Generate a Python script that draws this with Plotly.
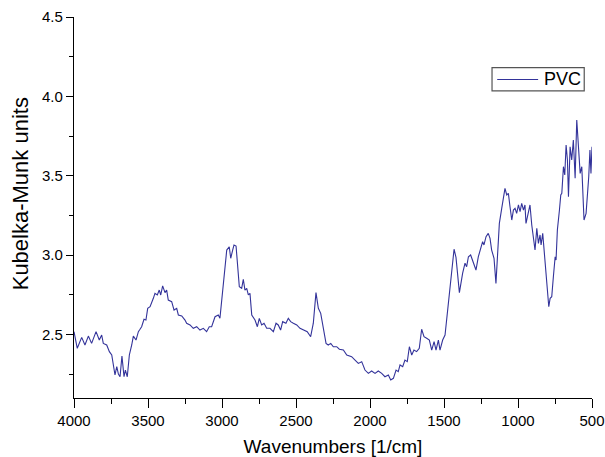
import plotly.graph_objects as go

wavenumber = [4000, 3978, 3948, 3926, 3903, 3881, 3851, 3829, 3813, 3802, 3779, 3761, 3745, 3734, 3723, 3711,
              3700, 3689, 3676, 3662, 3653, 3640, 3626, 3610, 3599, 3581, 3565, 3554, 3543, 3527, 3514, 3502,
              3486, 3464, 3453, 3437, 3424, 3414, 3401, 3385, 3374, 3363, 3340, 3324, 3306, 3295, 3272, 3250,
              3239, 3216, 3194, 3171, 3149, 3126, 3104, 3086, 3070, 3047, 3025, 3014, 3002, 2986, 2968, 2951,
              2941, 2928, 2919, 2905, 2896, 2883, 2867, 2856, 2845, 2833, 2822, 2811, 2799, 2777, 2761, 2748,
              2732, 2716, 2698, 2676, 2653, 2635, 2620, 2604, 2590, 2568, 2552, 2536, 2518, 2495, 2473, 2446,
              2424, 2401, 2383, 2365, 2349, 2333, 2315, 2297, 2282, 2265, 2248, 2225, 2207, 2180, 2157, 2124,
              2101, 2079, 2056, 2034, 2011, 1989, 1966, 1944, 1921, 1899, 1876, 1860, 1842, 1824, 1809, 1797,
              1779, 1764, 1748, 1734, 1718, 1703, 1685, 1667, 1651, 1635, 1617, 1599, 1583, 1567, 1554, 1538,
              1527, 1509, 1493, 1482, 1464, 1448, 1432, 1419, 1403, 1396, 1374, 1358, 1347, 1335, 1320, 1302,
              1284, 1268, 1252, 1239, 1230, 1216, 1201, 1189, 1178, 1162, 1149, 1140, 1126, 1110, 1099, 1088,
              1076, 1065, 1054, 1042, 1031, 1020, 1009, 997, 986, 975, 963, 953, 946, 930, 919, 907,
              896, 885, 873, 862, 851, 844, 833, 824, 811, 802, 792, 783, 772, 761, 749, 743,
              734, 720, 711, 704, 693, 684, 675, 666, 659, 648, 637, 626, 614, 603, 592, 580,
              569, 554, 540, 531, 522, 514, 507, 500]

km_units = [2.518, 2.413, 2.482, 2.434, 2.490, 2.444, 2.518, 2.465, 2.497, 2.444, 2.434, 2.392, 2.371, 2.297, 2.245, 2.297,
            2.251, 2.234, 2.365, 2.234, 2.276, 2.234, 2.371, 2.434, 2.490, 2.465, 2.518, 2.533, 2.549, 2.596, 2.591, 2.665,
            2.675, 2.728, 2.759, 2.749, 2.780, 2.749, 2.806, 2.764, 2.780, 2.717, 2.707, 2.654, 2.665, 2.623, 2.617, 2.591,
            2.571, 2.560, 2.539, 2.549, 2.528, 2.539, 2.518, 2.549, 2.549, 2.612, 2.623, 2.602, 2.717, 2.906, 3.032, 3.053,
            2.980, 3.032, 3.064, 3.057, 2.969, 2.801, 2.791, 2.848, 2.780, 2.791, 2.749, 2.759, 2.623, 2.591, 2.549, 2.602,
            2.560, 2.571, 2.539, 2.539, 2.518, 2.571, 2.560, 2.528, 2.581, 2.571, 2.602, 2.581, 2.571, 2.560, 2.539, 2.528,
            2.518, 2.486, 2.571, 2.764, 2.665, 2.633, 2.549, 2.444, 2.434, 2.444, 2.423, 2.423, 2.407, 2.402, 2.371, 2.360,
            2.339, 2.318, 2.329, 2.276, 2.255, 2.270, 2.255, 2.270, 2.255, 2.234, 2.245, 2.213, 2.224, 2.276, 2.266, 2.308,
            2.297, 2.339, 2.329, 2.423, 2.371, 2.402, 2.392, 2.413, 2.533, 2.486, 2.476, 2.465, 2.402, 2.455, 2.402, 2.465,
            2.402, 2.465, 2.497, 2.591, 2.738, 2.906, 3.037, 2.986, 2.822, 2.764, 2.886, 2.949, 2.927, 2.990, 3.001, 2.959,
            2.906, 2.990, 3.043, 3.085, 3.064, 3.116, 3.137, 3.106, 3.032, 2.980, 2.822, 2.949, 3.200, 3.295, 3.347, 3.421,
            3.379, 3.389, 3.305, 3.221, 3.284, 3.295, 3.263, 3.316, 3.274, 3.326, 3.284, 3.316, 3.200, 3.263, 3.316, 3.190,
            3.106, 3.032, 3.169, 3.074, 3.127, 3.064, 3.137, 3.032, 2.843, 2.738, 2.675, 2.728, 2.738, 2.864, 2.990, 2.969,
            3.158, 3.284, 3.379, 3.389, 3.557, 3.505, 3.694, 3.599, 3.368, 3.683, 3.599, 3.725, 3.484, 3.851, 3.704, 3.515,
            3.557, 3.221, 3.263, 3.368, 3.494, 3.662, 3.515, 3.683]

x_ticks = [4000, 3500, 3000, 2500, 2000, 1500, 1000, 500]
y_ticks = [2.5, 3.0, 3.5, 4.0, 4.5]
y_tick_labels = ["2.5", "3.0", "3.5", "4.0", "4.5"]
series_name = "PVC"
x_title = "Wavenumbers [1/cm]"
y_title = "Kubelka-Munk units"

font_family = "Liberation Sans, Arial, sans-serif"
line_color = "#33339a"

fig = go.Figure()
fig.add_trace(go.Scatter(
    x=wavenumber, y=km_units, mode="lines", name=series_name,
    line=dict(color=line_color, width=1.1), showlegend=False,
))

# compact boxed legend, as in the reference
fig.add_shape(type="rect", xref="paper", yref="paper", x0=0.807, x1=0.985, y0=0.806, y1=0.867,
              line=dict(color="#555555", width=1.2), fillcolor="white", layer="above")
fig.add_shape(type="line", xref="paper", yref="paper", x0=0.817, x1=0.896, y0=0.836, y1=0.836,
              line=dict(color=line_color, width=1.1), layer="above")
fig.add_annotation(xref="paper", yref="paper", x=0.904, y=0.838, text=series_name, showarrow=False,
                   xanchor="left", yanchor="middle", font=dict(size=18, family=font_family, color="black"))

# y-axis title (sits slightly above the plot centre in the reference)
fig.add_annotation(xref="paper", yref="paper", x=-0.104, y=0.535, text=y_title, showarrow=False,
                   textangle=-90, xanchor="center", yanchor="middle",
                   font=dict(size=22, family=font_family, color="black"))

fig.update_layout(
    width=605, height=457,
    margin=dict(l=74, r=13, t=17, b=59, autoexpand=False),
    paper_bgcolor="white", plot_bgcolor="white",
    font=dict(family=font_family, color="black", size=15),
    showlegend=False,
)

fig.update_xaxes(
    range=[4000, 500], tickvals=x_ticks, ticktext=[str(v) for v in x_ticks],
    showline=True, linecolor="black", linewidth=1.3, automargin=False,
    ticks="outside", ticklen=9, tickwidth=1.3, tickcolor="black",
    minor=dict(ticks="outside", ticklen=5, tickwidth=1.3, tickcolor="black", dtick=250, tick0=500),
    showgrid=False, zeroline=False,
    tickfont=dict(size=15),
    title=dict(text=x_title, font=dict(size=19), standoff=12),
)
fig.update_yaxes(
    range=[2.1, 4.5], tickvals=y_ticks, ticktext=y_tick_labels,
    showline=True, linecolor="black", linewidth=1.3, automargin=False,
    ticks="outside", ticklen=7, tickwidth=1.3, tickcolor="black",
    minor=dict(ticks="outside", ticklen=4, tickwidth=1.3, tickcolor="black", dtick=0.25, tick0=2.0),
    showgrid=False, zeroline=False,
    tickfont=dict(size=15),
)

fig.write_html("out.html", config={"displayModeBar": False},
               post_script="document.body.style.margin='0';document.body.style.overflow='hidden';")
